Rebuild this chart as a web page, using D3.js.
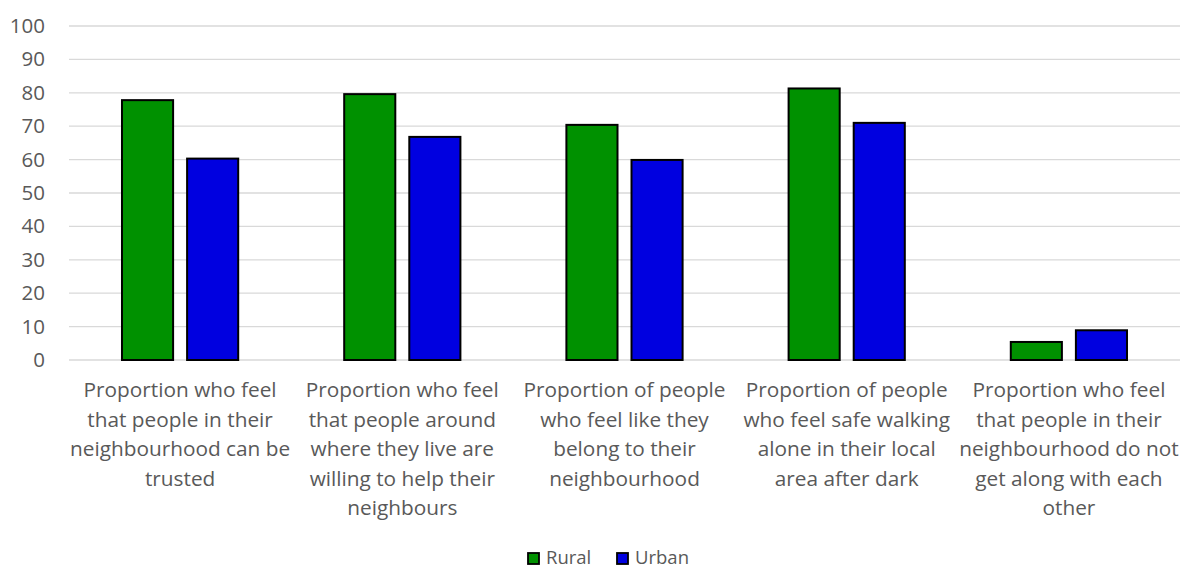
<!DOCTYPE html>
<html><head><meta charset="utf-8">
<script src="https://cdn.jsdelivr.net/npm/d3@7"></script>
<style>body{margin:0;background:#fff;} text{font-family:"Open Sans", sans-serif;}</style>
</head><body>
<svg id="c" width="1193" height="569"></svg>
<script>
const categories = [
  "Proportion who feel that people in their neighbourhood can be trusted",
  "Proportion who feel that people around where they live are willing to help their neighbours",
  "Proportion of people who feel like they belong to their neighbourhood",
  "Proportion of people who feel safe walking alone in their local area after dark",
  "Proportion who feel that people in their neighbourhood do not get along with each other"
];
const categoryLines = [
  ["Proportion who feel","that people in their","neighbourhood can be","trusted"],
  ["Proportion who feel","that people around","where they live are","willing to help their","neighbours"],
  ["Proportion of people","who feel like they","belong to their","neighbourhood"],
  ["Proportion of people","who feel safe walking","alone in their local","area after dark"],
  ["Proportion who feel","that people in their","neighbourhood do not","get along with each","other"]
];
const seriesNames = ["Rural","Urban"];
const rural = [77.8, 79.6, 70.4, 81.3, 5.4];
const urban = [60.3, 66.8, 59.9, 71.0, 8.9];
const colors = ["#009100","#0000e0"];
const yTicks = [0,10,20,30,40,50,60,70,80,90,100];

(function(){
const svg = d3.select("#c");
const mL = 69, mR = 1180, mT = 26, mB = 360;
const x = d3.scaleBand().domain(d3.range(categories.length)).range([mL, mR]).padding(0);
const y = d3.scaleLinear().domain([0,100]).range([mB, mT]);

// gridlines
svg.append("g").selectAll("line").data(yTicks).join("line")
  .attr("x1", mL).attr("x2", mR)
  .attr("y1", d=>y(d)).attr("y2", d=>y(d))
  .attr("stroke", "#d9d9d9").attr("stroke-width", 1.3);

// y axis labels
const yAxis = d3.axisLeft(y).tickValues(yTicks).tickSize(0).tickPadding(0);
const ya = svg.append("g").attr("transform", `translate(${45},0)`).call(yAxis);
ya.select(".domain").remove();
ya.selectAll("text").attr("fill","#595959").style("font-size","20.5px").style("font-family","'Open Sans', sans-serif");

// bars
const bw = x.bandwidth()*0.23, gap = x.bandwidth()*0.063;
const data = [rural, urban];
data.forEach((vals, si) => {
  svg.append("g").selectAll("rect").data(vals).join("rect")
    .attr("x", (d,i)=> x(i) + x.bandwidth()/2 + (si===0 ? -gap/2 - bw : gap/2))
    .attr("y", d=>y(d))
    .attr("width", bw)
    .attr("height", d=> y(0)-y(d))
    .attr("fill", colors[si])
    .attr("stroke", "#000").attr("stroke-width", 2);
});

// category labels
const cl = svg.append("g");
categoryLines.forEach((lines, i) => {
  const t = cl.append("text").attr("text-anchor","middle")
    .attr("fill","#595959").style("font-size","20.8px");
  lines.forEach((ln, j) => {
    t.append("tspan").attr("x", x(i)+x.bandwidth()/2).attr("y", 397 + j*29.6).text(ln);
  });
});

// legend
const lg = svg.append("g");
const legendX = [527, 616];
seriesNames.forEach((n, i) => {
  lg.append("rect").attr("x", legendX[i]+1).attr("y", 553).attr("width", 11).attr("height", 11)
    .attr("fill", colors[i]).attr("stroke","#000").attr("stroke-width",1.8);
  lg.append("text").attr("x", legendX[i]+19).attr("y", 564).attr("fill","#595959")
    .style("font-size","18.5px").text(n);
});
})();
</script>
</body></html>
